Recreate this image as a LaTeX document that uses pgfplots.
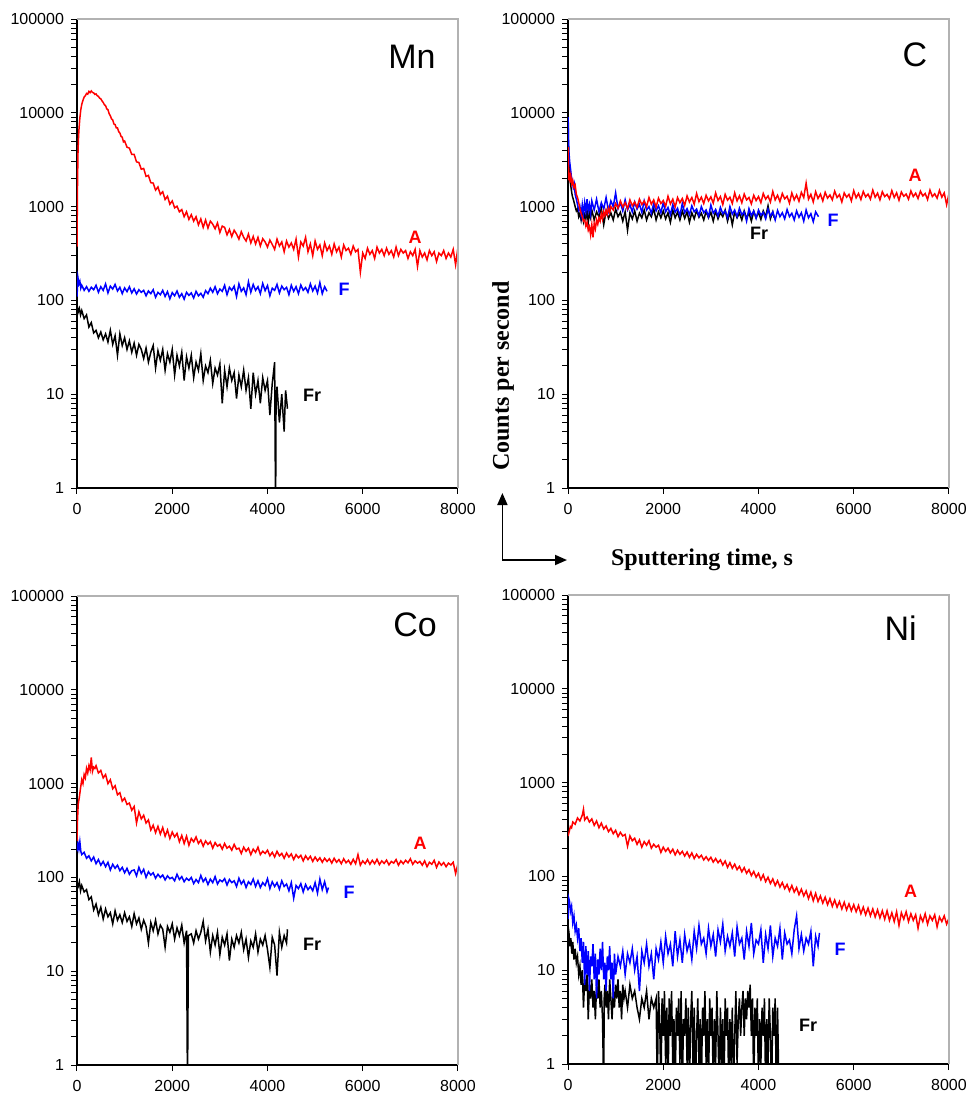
\documentclass[border=0pt]{standalone}
\usepackage{fontspec}
\setmainfont{Liberation Sans}
\newfontfamily\timesfont{Liberation Serif}
\usepackage{pgfplots}
\usepackage{pgfplotstable}
\pgfplotsset{compat=1.18}
\usetikzlibrary{arrows.meta}

% ---------------- Mn ----------------
\pgfplotstableread[row sep=\\]{x y\\
0 374\\ 10 1600\\ 20 3600\\ 30 5200\\ 40 6500\\ 60 8800\\ 80 10800\\ 100 12300\\ 125 13600\\ 150 14700\\ 175 15200\\ 200 16100\\ 225 15800\\ 250 16900\\ 275 16400\\ 300 17100\\ 325 16500\\ 350 16300\\ 375 15700\\ 400 15900\\ 425 15200\\ 450 15000\\ 475 14300\\ 500 14100\\ 525 13400\\ 550 12900\\ 575 12200\\ 600 11900\\ 625 11000\\ 650 10800\\ 675 9800\\ 700 9300\\ 725 8600\\ 750 8400\\ 775 7600\\ 800 7500\\ 825 6900\\ 850 6900\\ 875 6300\\ 900 6100\\ 925 5600\\ 950 5500\\ 975 4900\\ 1000 5000\\ 1050 4300\\ 1100 4200\\ 1150 3600\\ 1200 3600\\ 1250 3000\\ 1300 2950\\ 1350 2500\\ 1400 2550\\ 1450 2100\\ 1500 2150\\
1550 1800\\ 1600 1780\\ 1650 1500\\ 1700 1620\\ 1750 1350\\ 1800 1440\\ 1850 1190\\ 1900 1290\\ 1950 1060\\ 2000 1150\\ 2050 970\\ 2100 1010\\ 2150 880\\ 2200 930\\ 2250 780\\ 2300 880\\ 2350 730\\ 2400 820\\ 2450 700\\ 2500 780\\ 2550 640\\ 2600 740\\ 2650 600\\ 2700 720\\ 2750 590\\ 2800 700\\ 2850 650\\ 2900 580\\ 2950 670\\ 3000 530\\ 3050 620\\ 3100 600\\ 3150 500\\ 3200 570\\ 3250 480\\ 3300 560\\ 3350 510\\ 3400 450\\ 3450 540\\ 3500 470\\ 3550 430\\ 3600 510\\ 3650 410\\ 3700 480\\ 3750 400\\ 3800 470\\ 3850 380\\ 3900 455\\ 3950 420\\ 4000 370\\ 4050 440\\ 4100 395\\ 4150 350\\ 4200 450\\ 4250 380\\ 4300 420\\ 4350 330\\ 4400 430\\ 4450 370\\ 4500 410\\ 4550 350\\ 4600 450\\ 4650 290\\ 4700 420\\ 4750 380\\ 4800 470\\ 4850 330\\ 4900 400\\ 4950 300\\ 5000 430\\ 5050 350\\ 5100 390\\ 5150 300\\ 5200 410\\ 5250 340\\ 5300 380\\ 5350 310\\ 5400 400\\ 5450 330\\ 5500 370\\ 5550 290\\ 5600 390\\ 5650 340\\ 5700 360\\ 5750 310\\ 5800 380\\ 5850 330\\ 5900 350\\ 5950 200\\ 6000 320\\ 6050 280\\ 6100 360\\ 6150 310\\ 6200 340\\ 6250 280\\ 6300 370\\ 6350 320\\ 6400 350\\ 6450 300\\ 6500 360\\ 6550 310\\ 6600 340\\ 6650 290\\ 6700 370\\ 6750 300\\ 6800 350\\ 6850 320\\ 6900 340\\ 6950 280\\ 7000 330\\ 7050 300\\ 7100 350\\ 7150 230\\ 7200 340\\ 7250 290\\ 7300 320\\ 7350 270\\ 7400 340\\ 7450 300\\ 7500 330\\ 7550 260\\ 7600 320\\ 7650 300\\ 7700 340\\ 7750 280\\ 7800 320\\ 7850 290\\ 7900 350\\ 7950 240\\ 8000 370\\
}\mnA
\pgfplotstableread[row sep=\\]{x y\\
0 110\\ 20 175\\ 40 150\\ 60 160\\ 80 135\\ 100 145\\ 150 128\\ 200 140\\ 250 125\\ 300 138\\ 350 130\\ 400 145\\ 450 122\\ 500 140\\ 550 128\\ 600 150\\ 650 120\\ 700 142\\ 750 132\\ 800 148\\ 850 126\\ 900 138\\ 950 118\\ 1000 136\\ 1050 124\\ 1100 140\\ 1150 120\\ 1200 133\\ 1250 117\\ 1300 130\\ 1350 122\\ 1400 128\\ 1450 112\\ 1500 126\\ 1550 118\\ 1600 130\\ 1650 108\\ 1700 122\\ 1750 115\\ 1800 128\\ 1850 110\\ 1900 124\\ 1950 104\\ 2000 121\\ 2050 112\\ 2100 126\\ 2150 108\\ 2200 118\\ 2250 103\\ 2300 122\\ 2350 113\\ 2400 120\\ 2450 106\\ 2500 125\\ 2550 112\\ 2600 119\\ 2650 108\\ 2700 127\\ 2750 118\\ 2800 135\\ 2850 122\\ 2900 140\\ 2950 118\\ 3000 132\\ 3050 125\\ 3100 145\\ 3150 115\\ 3200 138\\ 3250 128\\ 3300 142\\ 3350 110\\ 3400 150\\ 3450 125\\ 3500 136\\ 3550 115\\ 3600 158\\ 3650 122\\ 3700 148\\ 3750 128\\ 3800 140\\ 3850 118\\ 3900 152\\ 3950 127\\ 4000 144\\ 4050 112\\ 4100 135\\ 4150 128\\ 4200 148\\ 4250 120\\ 4300 142\\ 4350 130\\ 4400 138\\ 4450 115\\ 4500 145\\ 4550 125\\ 4600 140\\ 4650 118\\ 4700 146\\ 4750 128\\ 4800 137\\ 4850 122\\ 4900 150\\ 4950 126\\ 5000 142\\ 5050 120\\ 5100 155\\ 5150 118\\ 5200 140\\ 5250 125\\
}\mnF
\pgfplotstableread[row sep=\\]{x y\\
0 90\\ 25 75\\ 50 82\\ 75 70\\ 100 78\\ 150 64\\ 200 70\\ 250 52\\ 300 58\\ 350 45\\ 400 48\\ 450 40\\ 500 46\\ 550 38\\ 600 44\\ 650 36\\ 700 48\\ 750 34\\ 800 42\\ 850 26\\ 900 44\\ 950 33\\ 1000 40\\ 1050 30\\ 1100 37\\ 1150 28\\ 1200 35\\ 1250 26\\ 1300 34\\ 1350 30\\ 1400 24\\ 1450 31\\ 1500 22\\ 1550 28\\ 1600 33\\ 1650 19\\ 1700 29\\ 1750 23\\ 1800 30\\ 1850 18\\ 1900 27\\ 1950 22\\ 2000 30\\ 2050 16\\ 2100 26\\ 2150 20\\ 2200 28\\ 2250 14\\ 2300 25\\ 2350 19\\ 2400 26\\ 2450 15\\ 2500 22\\ 2550 18\\ 2600 27\\ 2650 14\\ 2700 20\\ 2750 17\\ 2800 23\\ 2850 13\\ 2900 19\\ 2950 16\\ 3000 21\\ 3050 8\\ 3100 18\\ 3150 12\\ 3200 19\\ 3250 14\\ 3300 17\\ 3350 9\\ 3400 16\\ 3450 12\\ 3500 18\\ 3550 11\\ 3600 15\\ 3650 7\\ 3700 17\\ 3750 10\\ 3800 14\\ 3850 8\\ 3900 15\\ 3950 11\\ 4000 14\\ 4050 6\\ 4100 13\\ 4150 22\\ 4170 0.5\\ 4180 9\\ 4200 12\\ 4250 5\\ 4300 10\\ 4350 4\\ 4380 11\\ 4420 7\\
}\mnFr

% ---------------- C ----------------
\pgfplotstableread[row sep=\\]{x y\\
0 4300\\ 10 2600\\ 20 1900\\ 30 2300\\ 45 1800\\ 60 2100\\ 80 1750\\ 100 1900\\ 125 1600\\ 150 1700\\ 175 1350\\ 200 1250\\ 225 1100\\ 250 950\\ 275 850\\ 300 780\\ 325 700\\ 350 720\\ 375 620\\ 400 680\\ 425 560\\ 450 610\\ 475 500\\ 500 640\\ 525 470\\ 550 660\\ 575 580\\ 600 720\\ 625 650\\ 650 760\\ 675 700\\ 700 840\\ 725 740\\ 750 880\\ 775 800\\ 800 920\\ 825 830\\ 850 960\\ 875 870\\ 900 1000\\ 950 920\\ 1000 1080\\ 1050 960\\ 1100 1150\\ 1150 990\\ 1200 1100\\ 1250 950\\ 1300 1180\\ 1350 1020\\ 1400 1120\\ 1450 980\\ 1500 1200\\ 1550 1050\\ 1600 1150\\ 1650 1000\\ 1700 1250\\ 1750 1060\\ 1800 1180\\ 1850 990\\ 1900 1230\\ 1950 1080\\ 2000 1160\\ 2050 1010\\ 2100 1290\\ 2150 1070\\ 2200 1200\\ 2250 990\\ 2300 1250\\ 2350 1100\\ 2400 1220\\ 2450 1030\\ 2500 1300\\ 2550 1120\\ 2600 1250\\ 2650 1060\\ 2700 1380\\ 2750 1130\\ 2800 1260\\ 2850 1080\\ 2900 1320\\ 2950 1150\\ 3000 1270\\ 3050 1090\\ 3100 1400\\ 3150 1160\\ 3200 1280\\ 3250 1050\\ 3300 1350\\ 3350 1170\\ 3400 1260\\ 3450 1080\\ 3500 1400\\ 3550 1150\\ 3600 1300\\ 3650 1100\\ 3700 1360\\ 3750 1180\\ 3800 1250\\ 3850 1070\\ 3900 1320\\ 3950 1160\\ 4000 1280\\ 4050 1100\\ 4100 1380\\ 4150 1200\\ 4200 1300\\ 4250 1120\\ 4300 1450\\ 4350 1180\\ 4400 1320\\ 4450 1130\\ 4500 1380\\ 4550 1210\\ 4600 1290\\ 4650 1090\\ 4700 1400\\ 4750 1180\\ 4800 1330\\ 4850 1140\\ 4900 1420\\ 4950 1250\\ 5000 1780\\ 5050 1200\\ 5100 1350\\ 5150 1120\\ 5200 1440\\ 5250 1220\\ 5300 1360\\ 5350 1150\\ 5400 1420\\ 5450 1230\\ 5500 1330\\ 5550 1180\\ 5600 1460\\ 5650 1250\\ 5700 1340\\ 5750 1120\\ 5800 1400\\ 5850 1260\\ 5900 1350\\ 5950 1150\\ 6000 1480\\ 6050 1240\\ 6100 1380\\ 6150 1190\\ 6200 1450\\ 6250 1270\\ 6300 1360\\ 6350 1200\\ 6400 1500\\ 6450 1260\\ 6500 1390\\ 6550 1180\\ 6600 1440\\ 6650 1280\\ 6700 1350\\ 6750 1210\\ 6800 1480\\ 6850 1250\\ 6900 1400\\ 6950 1170\\ 7000 1430\\ 7050 1290\\ 7100 1360\\ 7150 1200\\ 7200 1470\\ 7250 1280\\ 7300 1390\\ 7350 1220\\ 7400 1460\\ 7450 1300\\ 7500 1380\\ 7550 1190\\ 7600 1500\\ 7650 1280\\ 7700 1370\\ 7750 1230\\ 7800 1490\\ 7850 1260\\ 7900 1400\\ 7950 1050\\ 8000 1380\\
}\cA
\pgfplotstableread[row sep=\\]{x y\\
0 9000\\ 10 5200\\ 20 3800\\ 35 3000\\ 50 2600\\ 70 2100\\ 90 1900\\ 110 1600\\ 130 1750\\ 150 1350\\ 175 1200\\ 200 1050\\ 225 920\\ 250 1000\\ 275 800\\ 300 1050\\ 325 830\\ 350 1100\\ 375 880\\ 400 1200\\ 425 900\\ 450 1050\\ 475 840\\ 500 1150\\ 550 920\\ 600 1200\\ 650 880\\ 700 1100\\ 750 940\\ 800 1250\\ 850 900\\ 900 1150\\ 950 1000\\ 1000 1400\\ 1050 950\\ 1100 1100\\ 1150 900\\ 1200 1180\\ 1250 920\\ 1300 1050\\ 1350 880\\ 1400 1120\\ 1450 940\\ 1500 1060\\ 1550 870\\ 1600 1150\\ 1650 920\\ 1700 1000\\ 1750 850\\ 1800 1080\\ 1850 900\\ 1900 1020\\ 1950 860\\ 2000 1100\\ 2050 880\\ 2100 980\\ 2150 820\\ 2200 1050\\ 2250 870\\ 2300 960\\ 2350 800\\ 2400 1080\\ 2450 860\\ 2500 950\\ 2550 820\\ 2600 1020\\ 2650 880\\ 2700 940\\ 2750 800\\ 2800 1000\\ 2850 860\\ 2900 920\\ 2950 780\\ 3000 1040\\ 3050 850\\ 3100 930\\ 3150 790\\ 3200 980\\ 3250 840\\ 3300 900\\ 3350 760\\ 3400 1000\\ 3450 830\\ 3500 920\\ 3550 780\\ 3600 960\\ 3650 820\\ 3700 880\\ 3750 700\\ 3800 950\\ 3850 800\\ 3900 900\\ 3950 750\\ 4000 920\\ 4050 810\\ 4100 870\\ 4150 740\\ 4200 940\\ 4250 790\\ 4300 880\\ 4350 720\\ 4400 910\\ 4450 780\\ 4500 860\\ 4550 740\\ 4600 930\\ 4650 780\\ 4700 850\\ 4750 720\\ 4800 900\\ 4850 770\\ 4900 860\\ 4950 700\\ 5000 920\\ 5050 760\\ 5100 840\\ 5150 690\\ 5200 880\\ 5260 780\\
}\cF
\pgfplotstableread[row sep=\\]{x y\\
0 43000\\ 4 9000\\ 10 4500\\ 20 3000\\ 35 2200\\ 50 1800\\ 70 1500\\ 90 1300\\ 110 1200\\ 130 1100\\ 150 1000\\ 175 900\\ 200 950\\ 225 780\\ 250 850\\ 275 720\\ 300 880\\ 325 700\\ 350 820\\ 375 740\\ 400 900\\ 425 680\\ 450 850\\ 475 760\\ 500 920\\ 550 720\\ 600 880\\ 650 780\\ 700 960\\ 750 640\\ 800 900\\ 850 750\\ 900 860\\ 950 720\\ 1000 940\\ 1050 780\\ 1100 870\\ 1150 700\\ 1200 880\\ 1250 560\\ 1300 860\\ 1350 740\\ 1400 900\\ 1450 700\\ 1500 850\\ 1550 760\\ 1600 920\\ 1650 720\\ 1700 860\\ 1750 780\\ 1800 950\\ 1850 720\\ 1900 880\\ 1950 760\\ 2000 900\\ 2050 740\\ 2100 860\\ 2150 680\\ 2200 920\\ 2250 760\\ 2300 870\\ 2350 720\\ 2400 900\\ 2450 750\\ 2500 880\\ 2550 680\\ 2600 860\\ 2650 740\\ 2700 910\\ 2750 770\\ 2800 850\\ 2850 720\\ 2900 890\\ 2950 760\\ 3000 870\\ 3050 700\\ 3100 900\\ 3150 740\\ 3200 860\\ 3250 780\\ 3300 920\\ 3350 700\\ 3400 870\\ 3450 640\\ 3500 880\\ 3550 760\\ 3600 850\\ 3650 720\\ 3700 900\\ 3750 750\\ 3800 860\\ 3850 700\\ 3900 890\\ 3950 760\\ 4000 870\\ 4050 730\\ 4100 900\\ 4150 780\\ 4200 1020\\ 4250 740\\ 4300 880\\ 4330 760\\
}\cFr

% ---------------- Co ----------------
\pgfplotstableread[row sep=\\]{x y\\
0 245\\ 10 400\\ 25 600\\ 50 720\\ 75 900\\ 100 1100\\ 125 1000\\ 150 1250\\ 175 1150\\ 200 1450\\ 225 1300\\ 250 1550\\ 275 1400\\ 300 1900\\ 325 1350\\ 350 1500\\ 375 1450\\ 400 1550\\ 450 1300\\ 500 1380\\ 550 1150\\ 600 1250\\ 650 1000\\ 700 1100\\ 750 880\\ 800 950\\ 850 760\\ 900 800\\ 950 650\\ 1000 700\\ 1050 600\\ 1100 620\\ 1150 520\\ 1200 570\\ 1250 380\\ 1300 500\\ 1350 420\\ 1400 460\\ 1450 380\\ 1500 410\\ 1550 320\\ 1600 360\\ 1650 300\\ 1700 350\\ 1750 290\\ 1800 340\\ 1850 275\\ 1900 320\\ 1950 260\\ 2000 305\\ 2050 270\\ 2100 295\\ 2150 240\\ 2200 280\\ 2250 230\\ 2300 275\\ 2350 220\\ 2400 260\\ 2450 240\\ 2500 270\\ 2550 230\\ 2600 250\\ 2650 215\\ 2700 245\\ 2750 225\\ 2800 240\\ 2850 205\\ 2900 235\\ 2950 215\\ 3000 225\\ 3050 200\\ 3100 230\\ 3150 205\\ 3200 215\\ 3250 195\\ 3300 225\\ 3350 200\\ 3400 205\\ 3450 180\\ 3500 210\\ 3550 190\\ 3600 205\\ 3650 175\\ 3700 200\\ 3750 185\\ 3800 210\\ 3850 175\\ 3900 190\\ 3950 180\\ 4000 195\\ 4050 170\\ 4100 185\\ 4150 165\\ 4200 190\\ 4250 170\\ 4300 180\\ 4350 160\\ 4400 182\\ 4450 165\\ 4500 178\\ 4550 155\\ 4600 175\\ 4650 162\\ 4700 172\\ 4750 150\\ 4800 170\\ 4850 155\\ 4900 168\\ 4950 148\\ 5000 165\\ 5050 150\\ 5100 162\\ 5150 145\\ 5200 160\\ 5250 148\\ 5300 158\\ 5350 142\\ 5400 160\\ 5450 145\\ 5500 155\\ 5550 140\\ 5600 158\\ 5650 143\\ 5700 152\\ 5750 138\\ 5800 156\\ 5850 140\\ 5900 175\\ 5950 135\\ 6000 150\\ 6050 140\\ 6100 155\\ 6150 138\\ 6200 152\\ 6250 140\\ 6300 156\\ 6350 137\\ 6400 150\\ 6450 141\\ 6500 153\\ 6550 136\\ 6600 148\\ 6650 142\\ 6700 155\\ 6750 135\\ 6800 150\\ 6850 140\\ 6900 152\\ 6950 143\\ 7000 158\\ 7050 138\\ 7100 150\\ 7150 142\\ 7200 148\\ 7250 135\\ 7300 150\\ 7350 130\\ 7400 145\\ 7450 138\\ 7500 152\\ 7550 128\\ 7600 146\\ 7650 135\\ 7700 144\\ 7750 130\\ 7800 142\\ 7850 136\\ 7900 145\\ 7950 110\\ 8000 140\\
}\coA
\pgfplotstableread[row sep=\\]{x y\\
0 190\\ 20 230\\ 40 200\\ 60 240\\ 80 190\\ 100 175\\ 150 185\\ 200 160\\ 250 170\\ 300 150\\ 350 165\\ 400 140\\ 450 155\\ 500 135\\ 550 148\\ 600 130\\ 650 145\\ 700 120\\ 750 138\\ 800 125\\ 850 135\\ 900 118\\ 950 128\\ 1000 112\\ 1050 125\\ 1100 108\\ 1150 118\\ 1200 120\\ 1250 104\\ 1300 128\\ 1350 110\\ 1400 122\\ 1450 100\\ 1500 115\\ 1550 106\\ 1600 112\\ 1650 98\\ 1700 108\\ 1750 100\\ 1800 106\\ 1850 94\\ 1900 104\\ 1950 97\\ 2000 100\\ 2050 92\\ 2100 108\\ 2150 95\\ 2200 102\\ 2250 90\\ 2300 98\\ 2350 93\\ 2400 100\\ 2450 86\\ 2500 95\\ 2550 88\\ 2600 105\\ 2650 90\\ 2700 98\\ 2750 84\\ 2800 96\\ 2850 88\\ 2900 102\\ 2950 85\\ 3000 94\\ 3050 90\\ 3100 97\\ 3150 83\\ 3200 95\\ 3250 88\\ 3300 92\\ 3350 80\\ 3400 98\\ 3450 85\\ 3500 93\\ 3550 78\\ 3600 90\\ 3650 84\\ 3700 96\\ 3750 80\\ 3800 92\\ 3850 78\\ 3900 88\\ 3950 82\\ 4000 97\\ 4050 76\\ 4100 90\\ 4150 80\\ 4200 88\\ 4250 75\\ 4300 92\\ 4350 80\\ 4400 85\\ 4450 72\\ 4500 88\\ 4550 60\\ 4600 82\\ 4650 76\\ 4700 86\\ 4750 70\\ 4800 84\\ 4850 74\\ 4900 80\\ 4950 72\\ 5000 88\\ 5050 68\\ 5100 96\\ 5150 74\\ 5200 90\\ 5250 70\\ 5280 78\\
}\coF
\pgfplotstableread[row sep=\\]{x y\\
0 85\\ 25 80\\ 50 90\\ 75 72\\ 100 82\\ 150 70\\ 200 74\\ 250 58\\ 300 62\\ 350 45\\ 400 52\\ 450 40\\ 500 48\\ 550 36\\ 600 46\\ 650 38\\ 700 42\\ 750 32\\ 800 44\\ 850 35\\ 900 40\\ 950 33\\ 1000 42\\ 1050 34\\ 1100 38\\ 1150 30\\ 1200 41\\ 1250 32\\ 1300 37\\ 1350 28\\ 1400 35\\ 1450 30\\ 1500 20\\ 1550 33\\ 1600 27\\ 1650 35\\ 1700 25\\ 1750 31\\ 1800 28\\ 1850 18\\ 1900 30\\ 1950 26\\ 2000 32\\ 2050 22\\ 2100 29\\ 2150 24\\ 2200 31\\ 2250 20\\ 2300 27\\ 2320 0.5\\ 2340 24\\ 2400 25\\ 2450 20\\ 2500 27\\ 2550 22\\ 2600 26\\ 2650 34\\ 2700 21\\ 2750 28\\ 2800 16\\ 2850 24\\ 2900 19\\ 2950 26\\ 3000 15\\ 3050 23\\ 3100 19\\ 3150 25\\ 3200 13\\ 3250 22\\ 3300 18\\ 3350 24\\ 3400 20\\ 3450 26\\ 3500 17\\ 3550 22\\ 3600 14\\ 3650 21\\ 3700 18\\ 3750 25\\ 3800 16\\ 3850 22\\ 3900 19\\ 3950 24\\ 4000 17\\ 4050 11\\ 4100 23\\ 4150 19\\ 4200 9\\ 4250 26\\ 4300 18\\ 4350 24\\ 4400 20\\ 4420 28\\
}\coFr

% ---------------- Ni ----------------
\pgfplotstableread[row sep=\\]{x y\\
0 270\\ 25 300\\ 50 340\\ 75 330\\ 100 380\\ 150 360\\ 200 420\\ 250 390\\ 300 450\\ 325 520\\ 350 400\\ 400 430\\ 450 380\\ 500 410\\ 550 350\\ 600 390\\ 650 330\\ 700 370\\ 750 320\\ 800 345\\ 850 300\\ 900 325\\ 950 285\\ 1000 310\\ 1050 265\\ 1100 295\\ 1150 270\\ 1200 280\\ 1250 210\\ 1300 270\\ 1350 240\\ 1400 255\\ 1450 220\\ 1500 245\\ 1550 205\\ 1600 235\\ 1650 215\\ 1700 240\\ 1750 200\\ 1800 220\\ 1850 205\\ 1900 215\\ 1950 180\\ 2000 205\\ 2050 185\\ 2100 200\\ 2150 178\\ 2200 195\\ 2250 170\\ 2300 190\\ 2350 172\\ 2400 185\\ 2450 165\\ 2500 182\\ 2550 160\\ 2600 178\\ 2650 155\\ 2700 172\\ 2750 158\\ 2800 168\\ 2850 150\\ 2900 162\\ 2950 148\\ 3000 160\\ 3050 142\\ 3100 155\\ 3150 140\\ 3200 150\\ 3250 132\\ 3300 146\\ 3350 125\\ 3400 140\\ 3450 122\\ 3500 135\\ 3550 118\\ 3600 128\\ 3650 112\\ 3700 124\\ 3750 108\\ 3800 118\\ 3850 102\\ 3900 113\\ 3950 98\\ 4000 108\\ 4050 92\\ 4100 104\\ 4150 88\\ 4200 98\\ 4250 84\\ 4300 94\\ 4350 80\\ 4400 90\\ 4450 77\\ 4500 86\\ 4550 74\\ 4600 82\\ 4650 70\\ 4700 80\\ 4750 68\\ 4800 76\\ 4850 64\\ 4900 73\\ 4950 62\\ 5000 70\\ 5050 58\\ 5100 68\\ 5150 55\\ 5200 66\\ 5250 54\\ 5300 62\\ 5350 52\\ 5400 60\\ 5450 50\\ 5500 58\\ 5550 48\\ 5600 56\\ 5650 47\\ 5700 54\\ 5750 45\\ 5800 53\\ 5850 44\\ 5900 51\\ 5950 43\\ 6000 50\\ 6050 42\\ 6100 49\\ 6150 40\\ 6200 47\\ 6250 39\\ 6300 46\\ 6350 38\\ 6400 45\\ 6450 37\\ 6500 44\\ 6550 36\\ 6600 43\\ 6650 35\\ 6700 43\\ 6750 34\\ 6800 41\\ 6850 33\\ 6900 42\\ 6950 30\\ 7000 41\\ 7050 35\\ 7100 42\\ 7150 33\\ 7200 40\\ 7250 34\\ 7300 39\\ 7350 28\\ 7400 38\\ 7450 33\\ 7500 40\\ 7550 31\\ 7600 38\\ 7650 34\\ 7700 39\\ 7750 29\\ 7800 37\\ 7850 33\\ 7900 38\\ 7950 31\\ 8000 36\\
}\niA
\pgfplotstableread[row sep=\\]{x y\\
0 35\\ 10 60\\ 30 55\\ 50 42\\ 75 48\\ 100 32\\ 125 38\\ 150 26\\ 175 30\\ 200 22\\ 225 28\\ 250 16\\ 275 22\\ 300 12\\ 325 20\\ 350 7\\ 375 18\\ 400 9\\ 425 16\\ 450 6\\ 475 14\\ 500 11\\ 525 19\\ 550 8\\ 575 15\\ 600 5\\ 625 13\\ 650 9\\ 675 17\\ 700 10\\ 725 20\\ 750 8\\ 775 12\\ 800 6\\ 825 14\\ 850 10\\ 875 18\\ 900 8\\ 925 12\\ 950 5\\ 975 15\\ 1000 9\\ 1050 14\\ 1100 11\\ 1150 16\\ 1200 9\\ 1250 15\\ 1300 12\\ 1350 17\\ 1400 10\\ 1450 14\\ 1500 6\\ 1550 16\\ 1600 12\\ 1650 19\\ 1700 11\\ 1750 15\\ 1800 8\\ 1850 17\\ 1900 13\\ 1950 20\\ 2000 12\\ 2050 23\\ 2100 15\\ 2150 19\\ 2200 11\\ 2250 26\\ 2300 14\\ 2350 21\\ 2400 12\\ 2450 24\\ 2500 16\\ 2550 20\\ 2600 13\\ 2650 26\\ 2700 17\\ 2750 30\\ 2800 19\\ 2850 22\\ 2900 15\\ 2950 28\\ 3000 18\\ 3050 24\\ 3100 14\\ 3150 27\\ 3200 20\\ 3250 31\\ 3300 16\\ 3350 23\\ 3400 18\\ 3450 25\\ 3500 14\\ 3550 29\\ 3600 19\\ 3650 22\\ 3700 13\\ 3750 26\\ 3800 18\\ 3850 32\\ 3900 15\\ 3950 21\\ 4000 19\\ 4050 27\\ 4100 12\\ 4150 24\\ 4200 17\\ 4250 30\\ 4300 14\\ 4350 22\\ 4400 18\\ 4450 28\\ 4500 13\\ 4550 25\\ 4600 19\\ 4650 21\\ 4700 15\\ 4750 27\\ 4800 38\\ 4850 17\\ 4900 24\\ 4950 16\\ 5000 22\\ 5050 19\\ 5100 26\\ 5150 11\\ 5200 23\\ 5250 18\\ 5280 25\\
}\niF
\pgfplotstableread[row sep=\\]{x y\\
0 30\\ 20 25\\ 40 18\\ 60 22\\ 80 15\\ 100 20\\ 125 13\\ 150 17\\ 175 12\\ 200 14\\ 225 9\\ 250 11\\ 275 7\\ 300 10\\ 325 4\\ 350 8\\ 375 6\\ 400 9\\ 425 3\\ 450 7\\ 475 5\\ 500 8\\ 525 4\\ 550 6\\ 575 3\\ 600 7\\ 625 5\\ 650 8\\ 675 4\\ 700 6\\ 725 3\\ 750 0.5\\ 760 5\\ 775 7\\ 800 4\\ 825 6\\ 850 3\\ 875 8\\ 900 5\\ 925 3\\ 950 6\\ 975 4\\ 1000 7\\ 1025 5\\ 1050 8\\ 1075 4\\ 1100 6\\ 1125 3\\ 1150 7\\ 1175 5\\ 1200 6\\ 1250 4\\ 1300 7\\ 1350 5\\ 1400 6\\ 1450 4\\ 1500 3\\ 1550 5\\ 1600 4\\ 1650 6\\ 1700 3\\ 1750 5\\ 1800 4\\ 1850 5\\ 1875 0.5\\ 1900 6\\ 1925 3\\ 1950 0.5\\ 1975 5\\ 2000 2\\ 2025 6\\ 2050 1\\ 2075 4\\ 2100 0.5\\ 2125 5\\ 2150 2\\ 2175 6\\ 2200 1\\ 2225 3\\ 2250 0.5\\ 2275 4\\ 2300 2\\ 2325 5\\ 2350 1\\ 2375 6\\ 2400 0.5\\ 2425 3\\ 2450 2\\ 2475 5\\ 2500 1\\ 2525 4\\ 2550 0.5\\ 2575 3\\ 2600 6\\ 2625 1\\ 2650 4\\ 2675 0.5\\ 2700 2\\ 2725 5\\ 2750 1\\ 2775 3\\ 2800 0.5\\ 2825 4\\ 2850 2\\ 2875 6\\ 2900 1\\ 2925 3\\ 2950 0.5\\ 2975 5\\ 3000 2\\ 3025 4\\ 3050 0.5\\ 3075 3\\ 3100 1\\ 3125 6\\ 3150 2\\ 3175 0.5\\ 3200 4\\ 3225 1\\ 3250 3\\ 3275 0.5\\ 3300 5\\ 3325 2\\ 3350 4\\ 3375 0.5\\ 3400 3\\ 3425 1\\ 3450 4\\ 3475 0.5\\ 3500 2\\ 3525 6\\ 3550 1\\ 3575 3\\ 3600 5\\ 3625 2\\ 3650 4\\ 3675 6\\ 3700 2\\ 3725 5\\ 3750 3\\ 3775 6\\ 3800 4\\ 3825 7\\ 3850 2\\ 3875 5\\ 3900 0.5\\ 3925 4\\ 3950 2\\ 3975 5\\ 4000 0.5\\ 4025 3\\ 4050 1\\ 4075 4\\ 4100 2\\ 4125 5\\ 4150 0.5\\ 4175 3\\ 4200 1\\ 4225 5\\ 4250 2\\ 4275 0.5\\ 4300 4\\ 4325 2\\ 4350 5\\ 4375 0.5\\ 4400 4\\ 4430 0.5\\
}\niFr

\definecolor{pr}{RGB}{255,0,0}
\definecolor{pb}{RGB}{0,0,255}
\tikzset{
  sA/.style={pr, line width=0.75pt},
  sF/.style={pb, line width=0.75pt},
  sFr/.style={black, line width=0.75pt},
  plab/.style={font=\fontsize{17}{20}\selectfont},
  slab/.style={font=\fontsize{9}{10}\selectfont\bfseries},
}
\pgfplotsset{every axis/.append style={
    width=190.5pt, height=234.5pt, scale only axis,
    xmin=0, xmax=8000, ymin=1, ymax=100000,
    axis x line=bottom, axis y line=left, axis line style={-, line width=0.6pt, black},
    xtick={0,2000,4000,6000,8000}, xticklabels={0,2000,4000,6000,8000},
    ytick={1,10,100,1000,10000,100000}, yticklabels={1,10,100,1000,10000,100000},
    minor y tick num=0, minor x tick num=0,
    tick align=outside, major tick length=3pt,
    every tick/.style={black, line width=0.5pt},
    tick label style={font=\fontsize{8}{9}\selectfont},
    xticklabel style={inner sep=0pt, yshift=-4.5pt},
  }}

\begin{document}
\begin{tikzpicture}
\path (0,0) rectangle (483.5pt,-548.5pt);

\begin{semilogyaxis}[name=mn, anchor=south west, at={(38.5pt,-244pt)}]
\addplot[sFr, mark=none] table[x=x,y=y] {\mnFr};
\addplot[sF, mark=none] table[x=x,y=y] {\mnF};
\addplot[sA, mark=none] table[x=x,y=y] {\mnA};
\end{semilogyaxis}

\begin{semilogyaxis}[name=cc, anchor=south west, at={(284pt,-244pt)}]
\addplot[sFr, mark=none] table[x=x,y=y] {\cFr};
\addplot[sF, mark=none] table[x=x,y=y] {\cF};
\addplot[sA, mark=none] table[x=x,y=y] {\cA};
\end{semilogyaxis}

\begin{semilogyaxis}[name=co, anchor=south west, at={(38.5pt,-532.5pt)}]
\addplot[sFr, mark=none] table[x=x,y=y] {\coFr};
\addplot[sF, mark=none] table[x=x,y=y] {\coF};
\addplot[sA, mark=none] table[x=x,y=y] {\coA};
\end{semilogyaxis}

\begin{semilogyaxis}[name=ni, anchor=south west, at={(284pt,-532pt)}]
\addplot[sFr, mark=none] table[x=x,y=y] {\niFr};
\addplot[sF, mark=none] table[x=x,y=y] {\niF};
\addplot[sA, mark=none] table[x=x,y=y] {\niA};
\end{semilogyaxis}

% gray top/right frame
\foreach \p in {mn,cc,co,ni} {
  \draw[gray!60, line width=0.6pt] (\p.north west) -- (\p.north east) -- (\p.south east);
}

% panel titles
\node[plab] at (206pt,-28.5pt) {Mn};
\node[plab] at (457.5pt,-27.5pt) {C};
\node[plab] at (207.5pt,-312.5pt) {Co};
\node[plab] at (450.3pt,-314pt) {Ni};

% series labels
\node[slab, text=pr] at (207.5pt,-118.5pt) {A};
\node[slab, text=pb] at (172pt,-144.5pt) {F};
\node[slab] at (156pt,-197.5pt) {Fr};
\node[slab, text=pr] at (457.5pt,-87.5pt) {A};
\node[slab, text=pb] at (416.5pt,-110pt) {F};
\node[slab] at (379.5pt,-116.5pt) {Fr};
\node[slab, text=pr] at (210pt,-421.5pt) {A};
\node[slab, text=pb] at (174.5pt,-446pt) {F};
\node[slab] at (156pt,-472pt) {Fr};
\node[slab, text=pr] at (455.3pt,-445.8pt) {A};
\node[slab, text=pb] at (420pt,-474.6pt) {F};
\node[slab] at (404pt,-512.5pt) {Fr};

% central axis titles
\node[rotate=90, font=\timesfont\bfseries\fontsize{12}{14}\selectfont] at (251.5pt,-188pt) {Counts per second};
\node[anchor=west, font=\timesfont\bfseries\fontsize{12}{14}\selectfont] at (302pt,-280pt) {Sputtering time, s};
\draw[line width=0.9pt, -{Triangle[length=6pt,width=5pt]}] (251.2pt,-280pt) -- (251.2pt,-246.5pt);
\draw[line width=0.9pt, -{Triangle[length=6pt,width=5pt]}] (251.2pt,-280pt) -- (283.5pt,-280pt);
\end{tikzpicture}
\end{document}
